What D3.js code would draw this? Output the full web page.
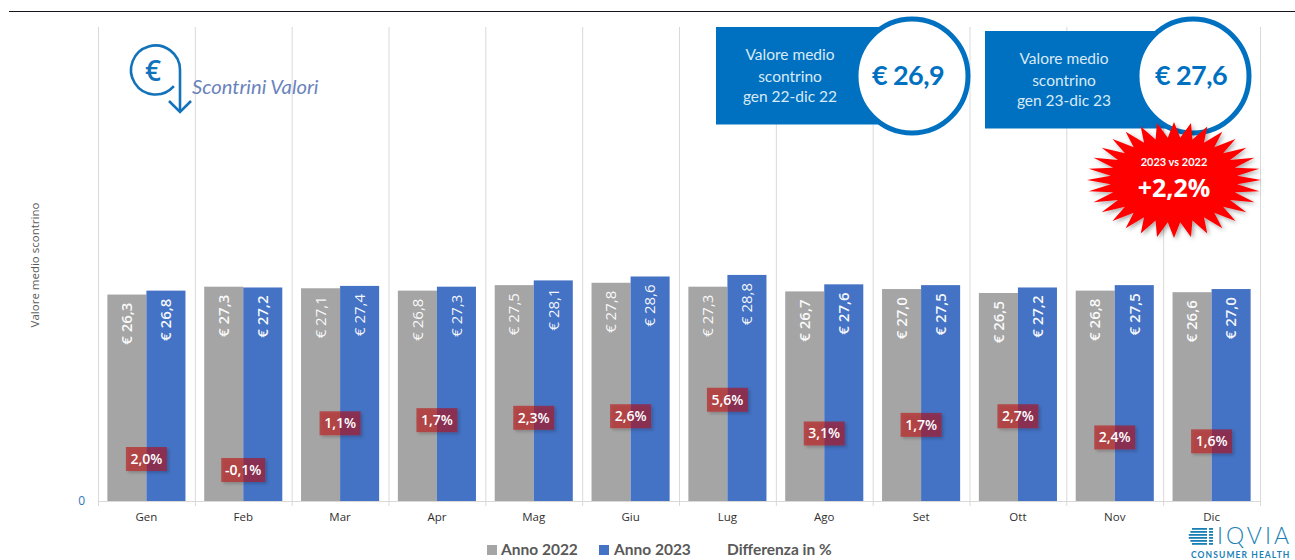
<!DOCTYPE html>
<html>
<head>
<meta charset="utf-8">
<script src="https://cdn.jsdelivr.net/npm/d3@7"></script>
<style>
  html, body { margin: 0; background: #fff; overflow: hidden; }
  svg { display: block; }
  text { font-family: "Open Sans", sans-serif; }
  .lato { font-family: Lato, sans-serif; }
</style>
</head>
<body>
<div id="chart-area"></div>
<script>
const months = ['Gen', 'Feb', 'Mar', 'Apr', 'Mag', 'Giu', 'Lug', 'Ago', 'Set', 'Ott', 'Nov', 'Dic']
const seriesNames = ['Anno 2022', 'Anno 2023']
const values2022 = [26.3, 27.3, 27.1, 26.8, 27.5, 27.8, 27.3, 26.7, 27.0, 26.5, 26.8, 26.6]
const values2023 = [26.8, 27.2, 27.4, 27.3, 28.1, 28.6, 28.8, 27.6, 27.5, 27.2, 27.5, 27.0]
const diffLabels = ['2,0%', '-0,1%', '1,1%', '1,7%', '2,3%', '2,6%', '5,6%', '3,1%', '1,7%', '2,7%', '2,4%', '1,6%']
// hidden series that carries the % labels, in the same units as the bars
const diffLevels = [5.35, 3.95, 9.9, 10.3, 10.6, 10.8, 12.9, 8.6, 9.7, 10.8, 8.1, 7.6]
const yTicks = [0]

const WIDTH = 1295
const HEIGHT = 560
const MARGIN = { LEFT: 98, RIGHT: 35, TOP: 30, BOTTOM: 59 }
const colors = { 'Anno 2022': '#a5a5a5', 'Anno 2023': '#4472c4' }
const BRAND = '#0070c0'

const svg = d3.select("#chart-area").append("svg")
      .attr("width", WIDTH)
      .attr("height", HEIGHT)

const defs = svg.append("defs")
const shadow = defs.append("filter").attr("id", "shadow")
      .attr("x", "-30%").attr("y", "-30%").attr("width", "170%").attr("height", "170%")
shadow.append("feDropShadow")
      .attr("dx", 2).attr("dy", 2).attr("stdDeviation", 2)
      .attr("flood-color", "#000").attr("flood-opacity", 0.35)

// shadow for the see-through % boxes: only outside the box
const outer = defs.append("filter").attr("id", "outer-shadow")
      .attr("x", "-30%").attr("y", "-30%").attr("width", "170%").attr("height", "170%")
outer.append("feGaussianBlur").attr("in", "SourceAlpha").attr("stdDeviation", 1.8).attr("result", "blur")
outer.append("feOffset").attr("in", "blur").attr("dx", 2).attr("dy", 2).attr("result", "moved")
outer.append("feComposite").attr("in", "moved").attr("in2", "SourceAlpha")
      .attr("operator", "out").attr("result", "rim")
outer.append("feComponentTransfer").attr("in", "rim").attr("result", "soft")
      .append("feFuncA").attr("type", "linear").attr("slope", 0.35)
const outerMerge = outer.append("feMerge")
outerMerge.append("feMergeNode").attr("in", "soft")
outerMerge.append("feMergeNode").attr("in", "SourceGraphic")

// top rule
svg.append("line")
      .attr("x1", 9).attr("x2", WIDTH)
      .attr("y1", 11.5).attr("y2", 11.5)
      .attr("stroke", "#14141f").attr("stroke-width", 1.2)

const x = d3.scaleBand()
      .domain(months)
      .range([MARGIN.LEFT, WIDTH - MARGIN.RIGHT])

const xSeries = d3.scaleBand()
      .domain(seriesNames)
      .range([0, x.bandwidth()])
      .paddingInner(0)
      .paddingOuter(0.24)

const y = d3.scaleLinear()
      .domain([0, 60])
      .range([HEIGHT - MARGIN.BOTTOM, MARGIN.TOP])

// Vertical separators
const edges = months.map(m => x(m)).concat([x.range()[1]])
svg.append("g").selectAll("line").data(edges).enter().append("line")
      .attr("x1", d => d + 0.5).attr("x2", d => d + 0.5)
      .attr("y1", y(60) - 3).attr("y2", y(0) + 5)
      .attr("stroke", "#d9d9d9")

// X axis
const xAxis = svg.append("g")
      .attr("transform", `translate(0, ${y(0)})`)
      .call(d3.axisBottom(x).tickSize(0).tickPadding(12))
xAxis.select(".domain").attr("stroke", "#d9d9d9")
xAxis.selectAll("text")
      .attr("font-size", "11.5px")
      .attr("fill", "#303030")
      .style("font-family", '"Open Sans", sans-serif')

// Y axis
const yAxis = svg.append("g")
      .attr("transform", `translate(${MARGIN.LEFT}, 0)`)
      .call(d3.axisLeft(y).tickValues(yTicks).tickSize(0).tickPadding(13))
yAxis.select(".domain").remove()
yAxis.selectAll("text")
      .attr("font-size", "12px")
      .attr("fill", "#2e75b6")
      .style("font-family", '"Open Sans", sans-serif')

// Y label
svg.append("text")
      .attr("transform", `translate(35, 265) rotate(-90)`)
      .attr("text-anchor", "middle")
      .attr("dy", "0.35em")
      .attr("font-size", "11.5px")
      .attr("fill", "#595959")
      .text("Valore medio scontrino")

// Bars
const rows = seriesNames.flatMap((name, s) => months.map((m, i) => ({
      month: m,
      index: i,
      name: name,
      value: (s == 0 ? values2022 : values2023)[i]
})))

svg.append("g").selectAll("rect").data(rows).enter().append("rect")
      .attr("x", d => x(d.month) + xSeries(d.name))
      .attr("y", d => y(d.value))
      .attr("width", xSeries.bandwidth())
      .attr("height", d => y(0) - y(d.value))
      .attr("fill", d => colors[d.name])

// Value labels
svg.append("g").selectAll("text").data(rows).enter().append("text")
      .attr("transform", d => `translate(${x(d.month) + xSeries(d.name) + xSeries.bandwidth() / 2}, ${y(d.value) + 8}) rotate(-90)`)
      .attr("text-anchor", "end")
      .attr("dy", "0.35em")
      .attr("font-size", "15px")
      .attr("font-weight", d => (d.index >= 2 && d.index <= 6) ? 400 : 600)
      .attr("fill", "#fff")
      .attr("fill-opacity", 0.95)
      .text(d => "€ " + d.value.toFixed(1).replace(".", ","))

// Difference labels
const diff = svg.append("g").selectAll("g").data(months).enter().append("g")
      .attr("transform", (m, i) => `translate(${x(m) + x.bandwidth() / 2}, ${y(diffLevels[i])})`)
diff.append("rect")
      .attr("x", (m, i) => i == 1 ? -22 : -20.5)
      .attr("y", -12)
      .attr("width", (m, i) => i == 1 ? 44 : 41)
      .attr("height", 24)
      .attr("fill", "#c00000")
      .attr("fill-opacity", 0.55)
      .attr("filter", "url(#outer-shadow)")
diff.append("text")
      .attr("text-anchor", "middle")
      .attr("dy", "0.35em")
      .attr("font-size", "14px")
      .attr("font-weight", 600)
      .attr("fill", "#fff")
      .text((m, i) => diffLabels[i])

// Icon and subtitle
const icon = svg.append("g")
      .attr("fill", "none")
      .attr("stroke", "#1273ba")
      .attr("stroke-width", 2.6)
icon.append("path")
      .attr("d", d3.arc()({ innerRadius: 24.5, outerRadius: 24.5, startAngle: Math.PI * 0.73, endAngle: Math.PI * 2.5 }))
      .attr("transform", "translate(155.5, 70)")
icon.append("path").attr("d", "M180 70V112")
icon.append("path").attr("d", "M169 101L180 112L191 101")
svg.append("text")
      .attr("x", 153).attr("y", 71)
      .attr("text-anchor", "middle")
      .attr("dy", "0.35em")
      .attr("font-size", "28px")
      .attr("font-weight", 600)
      .attr("fill", "#1273ba")
      .text("€")
svg.append("text")
      .attr("class", "lato")
      .attr("x", 192).attr("y", 94)
      .attr("font-size", "20.2px")
      .attr("font-style", "italic")
      .attr("fill", "#6a83bd")
      .text("Scontrini Valori")

// Average boxes
const boxNames = ['gen 22-dic 22', 'gen 23-dic 23']
const boxValues = ['€ 26,9', '€ 27,6']
const boxes = [
      { left: 716, top: 27, cx: 912, textX: 790, lines: [55, 77, 97], valueX: 908 },
      { left: 985, top: 31, cx: 1193, textX: 1064, lines: [59, 81, 101], valueX: 1191 }
]
boxes.forEach((b, i) => {
      svg.append("rect")
            .attr("x", b.left).attr("y", b.top)
            .attr("width", b.cx - b.left).attr("height", 97.5)
            .attr("fill", BRAND)
      svg.append("ellipse")
            .attr("cx", b.cx).attr("cy", 76)
            .attr("rx", 56).attr("ry", 57)
            .attr("fill", "#fff")
            .attr("stroke", BRAND)
            .attr("stroke-width", 5)
      const txt = ['Valore medio', 'scontrino', boxNames[i]]
      txt.forEach((t, j) => {
            svg.append("text")
                  .attr("class", "lato")
                  .attr("x", b.textX).attr("y", b.lines[j])
                  .attr("text-anchor", "middle")
                  .attr("dy", "0.35em")
                  .attr("font-size", "15.5px")
                  .attr("fill", "#d8eaf6")
                  .text(t)
      })
      svg.append("text")
            .attr("class", "lato")
            .attr("x", b.valueX).attr("y", 76)
            .attr("text-anchor", "middle")
            .attr("dy", "0.35em")
            .attr("font-size", "27px")
            .attr("font-weight", 700)
            .attr("letter-spacing", "-0.6px")
            .attr("fill", BRAND)
            .text(boxValues[i])
})

// Starburst
const SPIKES = 32
const burstPoints = d3.range(SPIKES * 2).map(i => {
      const a = i * Math.PI / SPIKES
      const k = i % 2 == 0 ? 1 : 0.73
      return [Math.cos(a) * 87 * k, Math.sin(a) * 58 * k]
})
svg.append("path")
      .attr("transform", "translate(1174, 180)")
      .attr("d", d3.line()(burstPoints) + "Z")
      .attr("fill", "#ff0000")
      .attr("filter", "url(#shadow)")
svg.append("text")
      .attr("class", "lato")
      .attr("x", 1174).attr("y", 162)
      .attr("text-anchor", "middle")
      .attr("dy", "0.35em")
      .attr("font-size", "11px")
      .attr("font-weight", 700)
      .attr("fill", "#fff")
      .text("2023 vs 2022")
svg.append("text")
      .attr("x", 1174).attr("y", 188)
      .attr("text-anchor", "middle")
      .attr("dy", "0.35em")
      .attr("font-size", "25px")
      .attr("font-weight", 700)
      .attr("fill", "#fff")
      .text("+2,2%")

// Legend
const legendItems = [
      { label: seriesNames[0], swatch: 487, color: colors['Anno 2022'], tx: 501 },
      { label: seriesNames[1], swatch: 599, color: colors['Anno 2023'], tx: 614 },
      { label: 'Differenza in %', swatch: null, tx: 727 }
]
legendItems.forEach(l => {
      if (l.swatch) {
            svg.append("rect")
                  .attr("x", l.swatch).attr("y", 545)
                  .attr("width", 10).attr("height", 10)
                  .attr("fill", l.color)
      }
      svg.append("text")
            .attr("class", "lato")
            .attr("x", l.tx).attr("y", 550)
            .attr("dy", "0.35em")
            .attr("font-size", "15.5px")
            .attr("font-weight", 700)
            .attr("fill", "#595959")
            .text(l.label)
})

// IQVIA logo
const logo = svg.append("g").attr("fill", "#1a7fb5")
d3.range(6).forEach(i => {
      logo.append("rect")
            .attr("x", 1188 + Math.abs(i - 2.5) * 1.6).attr("y", 528 + i * 3)
            .attr("width", 19 - Math.abs(i - 2.5) * 1.6).attr("height", 1.8)
      logo.append("rect")
            .attr("x", 1209).attr("y", 528 + i * 3)
            .attr("width", 4).attr("height", 1.8)
})
logo.append("text")
      .attr("class", "lato")
      .attr("x", 1217).attr("y", 544)
      .attr("font-size", "23px")
      .attr("font-weight", 300)
      .attr("letter-spacing", "3px")
      .text("IQVIA")
logo.append("text")
      .attr("class", "lato")
      .attr("x", 1191).attr("y", 557.5)
      .attr("font-size", "8.5px")
      .attr("font-weight", 700)
      .attr("letter-spacing", "1.1px")
      .text("CONSUMER HEALTH")
</script>
</body>
</html>
